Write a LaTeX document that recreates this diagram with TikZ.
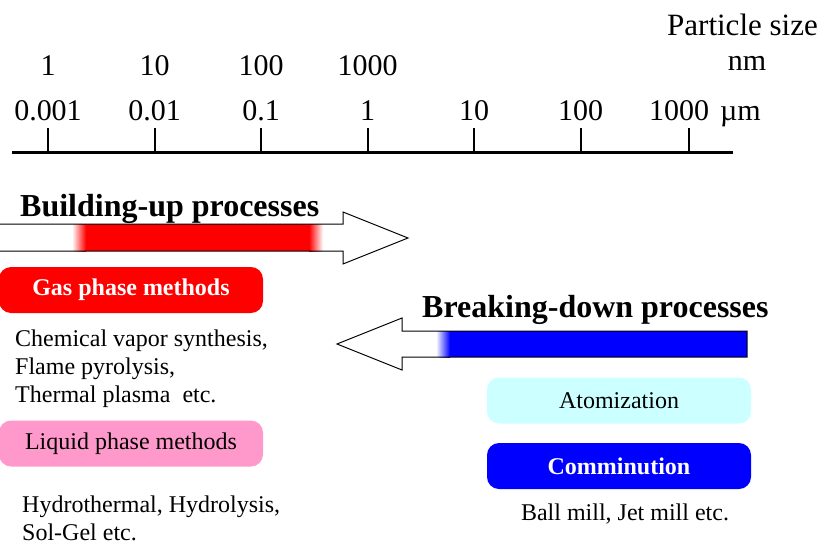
\documentclass[tikz,border=0pt]{standalone}
\usepackage{fontspec}
\setmainfont{Liberation Serif}
\usetikzlibrary{positioning}
\definecolor{liquidpink}{RGB}{255,153,204}
\definecolor{atomcyan}{RGB}{204,255,255}
\tikzstyle{methodbox}=[rounded corners=12pt, minimum width=264pt, minimum height=46pt, inner sep=0pt, font=\fontsize{24}{28}\selectfont]
\tikzstyle{sizelabel}=[anchor=base, inner sep=0pt, font=\fontsize{30}{36}\selectfont]
\tikzstyle{process}=[anchor=base west, inner sep=0pt, font=\fontsize{32}{36}\selectfont\bfseries]
\tikzstyle{note}=[anchor=base west, inner sep=0pt, align=left, font=\fontsize{24}{28}\selectfont]

\begin{document}
\begin{tikzpicture}[x=1pt, y=-1pt]
\useasboundingbox (0,0) rectangle (823,544);
% size axis
\draw[line width=3pt] (12,152) -- (733,152);
\foreach \x/\um [count=\i] in {48/0.001, 154.5/0.01, 261/0.1, 367.5/1, 474/10, 580.5/100} {
  \draw[line width=2pt] (\x,128) -- (\x,152);
  \node[sizelabel] (um\i) at (\x,120) {\um};
}
\draw[line width=2pt] (689,128) -- (689,152);
\node[sizelabel] (um7) at (679,120) {1000};
\foreach \x/\nm [count=\i] in {48/1, 154.5/10, 261/100, 367.5/1000}
  \node[sizelabel] (nm\i) at (\x,75) {\nm};
\node[sizelabel, anchor=base west] (umunit) at (720,120) {µm};
\node[sizelabel] (nmunit) at (747,70) {nm};
\node[sizelabel, anchor=base east, font=\fontsize{31}{36}\selectfont] (title) at (818,35) {Particle size};

% building-up arrow
\fill[white] (0,224) -- (343,224) -- (343,212) -- (408,238) -- (343,264) -- (343,251) -- (0,251);
\shade[left color=white, right color=red] (72,224) rectangle (86,251);
\fill[red] (86,224) rectangle (309,251);
\shade[left color=red, right color=white] (309,224) rectangle (323,251);
\draw[line width=1pt] (0,224) -- (343,224) -- (343,212) -- (408,238) -- (343,264) -- (343,251) -- (0,251);
\node[process] (build) at (20,216) {Building-up processes};

% breaking-down arrow
\fill[white] (747,331) -- (402,331) -- (402,318) -- (337,344) -- (402,370) -- (402,357) -- (747,357) -- cycle;
\shade[left color=white, right color=blue] (436,331) rectangle (450,357);
\fill[blue] (450,331) rectangle (747,357);
\draw[line width=1pt] (747,331) -- (402,331) -- (402,318) -- (337,344) -- (402,370) -- (402,357) -- (747,357) -- cycle;
\node[process] (break) at (422,317) {Breaking-down processes};

% methods
\node[methodbox, fill=red, text=white, font=\fontsize{24}{28}\selectfont\bfseries] (gas) at (131,290) {Gas phase methods};
\node[note] (gasnote) at (15,402) {Chemical vapor synthesis,\\Flame pyrolysis,\\Thermal plasma\ \ etc.};
\node[methodbox, fill=liquidpink] (liquid) at (131,443.5) {Liquid phase methods};
\node[note] (liquidnote) at (22,540) {Hydrothermal, Hydrolysis,\\Sol-Gel etc.};
\node[methodbox, fill=atomcyan] (atom) at (619,400.5) {Atomization};
\node[methodbox, fill=blue, text=white, font=\fontsize{24}{28}\selectfont\bfseries] (comm) at (619,466) {Comminution};
\node[note, anchor=base] (commnote) at (625,520) {Ball mill, Jet mill etc.};
\end{tikzpicture}
\end{document}
